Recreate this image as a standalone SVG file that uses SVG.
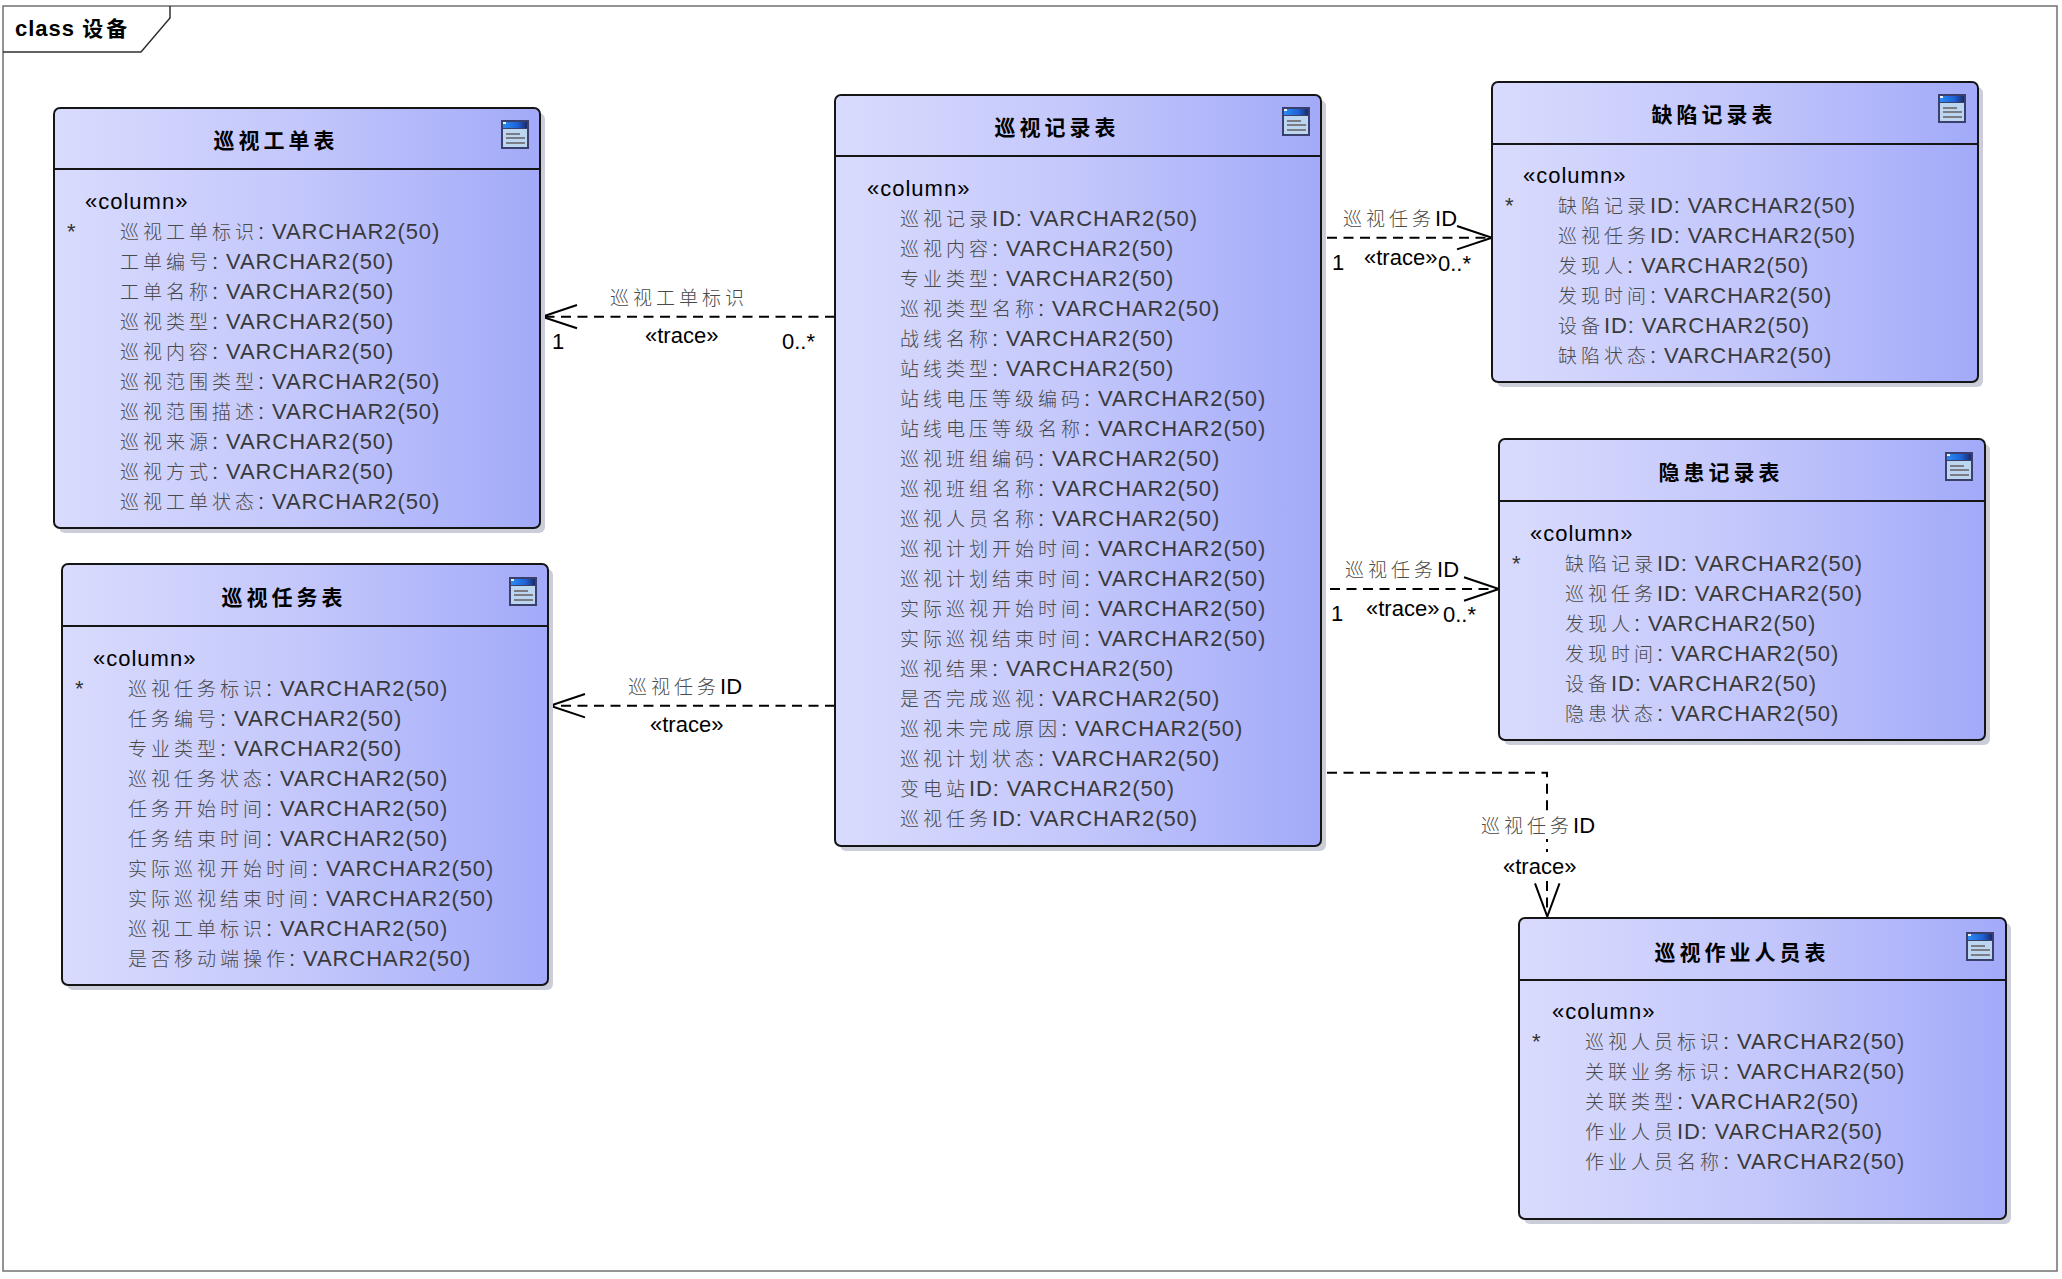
<svg xmlns="http://www.w3.org/2000/svg" xmlns:xlink="http://www.w3.org/1999/xlink" width="2062" height="1279" viewBox="0 0 2062 1279">
<defs>
<linearGradient id="g" x1="0" y1="0" x2="1" y2="0">
<stop offset="0" stop-color="#d9dbfd"/>
<stop offset="0.5" stop-color="#c3c7fb"/>
<stop offset="1" stop-color="#a2aaf9"/>
</linearGradient>
<linearGradient id="ib" x1="0" y1="0" x2="1" y2="0">
<stop offset="0" stop-color="#2a8cf5"/>
<stop offset="0.6" stop-color="#1f62d6"/>
<stop offset="1" stop-color="#1a2a6a"/>
</linearGradient>
<g id="icon">
<rect x="0" y="0" width="28" height="29" fill="#3b3f6c"/>
<rect x="2" y="2" width="24" height="6" fill="url(#ib)"/>
<rect x="2" y="2" width="3" height="2" fill="#e8f2ff"/>
<rect x="2" y="9" width="24" height="18" fill="#bcd6f2"/>
<rect x="5" y="13" width="14" height="2" fill="#7c7c84"/>
<rect x="5" y="17" width="19" height="2" fill="#7c7c84"/>
<rect x="5" y="22" width="19" height="2" fill="#7c7c84"/>
</g>
<style>
.frame{fill:#ffffff;stroke:#707070;stroke-width:1.5}
.tab{fill:none;stroke:#303030;stroke-width:1.5}
.ftitle{font-family:"Liberation Sans","Noto Sans CJK SC",sans-serif;font-size:22px;font-weight:bold;letter-spacing:1px;fill:#000}
.fc{font-family:"Noto Sans CJK SC",sans-serif;font-size:21px;letter-spacing:3px;font-weight:bold;fill:#000}
.shadow{fill:#cbced8}
.box{fill:url(#g);stroke:#151515;stroke-width:2}
.div{stroke:#151515;stroke-width:2}
.title{font-family:"Noto Sans CJK SC",sans-serif;font-size:21px;font-weight:bold;letter-spacing:4px;fill:#000;text-anchor:middle}
.st{font-family:"Liberation Sans",sans-serif;font-size:22px;letter-spacing:1px;fill:#000}
.r{font-family:"Liberation Sans","Noto Sans CJK SC",sans-serif;font-size:22px;letter-spacing:0.9px;fill:#3a3a3a}
.c{font-family:"Noto Sans CJK SC",sans-serif;font-size:19px;letter-spacing:4px;fill:#4a4a4a;font-weight:300}
.star{font-family:"Liberation Sans",sans-serif;font-size:22px;fill:#333}
.ln{fill:none;stroke:#000;stroke-width:2;stroke-dasharray:10 6.5}
.ah{fill:none;stroke:#000;stroke-width:2}
.lb{font-family:"Liberation Sans","Noto Sans CJK SC",sans-serif;font-size:22px;fill:#000}
</style>
</defs>
<rect x="0" y="0" width="2062" height="1279" fill="#ffffff"/>
<g id="frame">
<rect class="frame" x="3" y="6" width="2054" height="1265"/>
<path class="tab" d="M3,52 H141 L170,18 V6"/>
<text class="ftitle" x="15" y="36">class <tspan class="fc">设备</tspan></text>
</g>

<g id="connectors">
<path class="ln" d="M835,316.7 H543"/>
<polyline class="ah" points="577,305 542,316.7 577,328.3"/>
<text class="lb" x="610" y="305"><tspan class="c">巡视工单标识</tspan></text>
<text class="lb" x="645" y="343">«trace»</text>
<text class="lb" x="552" y="349">1</text>
<text class="lb" x="782" y="349">0..*</text>

<path class="ln" d="M835,705.7 H551"/>
<polyline class="ah" points="585,694 550,705.7 585,717.4"/>
<text class="lb" x="628" y="694"><tspan class="c">巡视任务</tspan>ID</text>
<text class="lb" x="650" y="732">«trace»</text>

<path class="ln" d="M1327,237.7 H1491"/>
<polyline class="ah" points="1457,226 1492,237.7 1457,249.4"/>
<text class="lb" x="1343" y="226"><tspan class="c">巡视任务</tspan>ID</text>
<text class="lb" x="1332" y="270">1</text>
<text class="lb" x="1364" y="265">«trace»</text>
<text class="lb" x="1438" y="271">0..*</text>

<path class="ln" d="M1330,589 H1498"/>
<polyline class="ah" points="1464,577.3 1499,589 1464,600.7"/>
<text class="lb" x="1345" y="577"><tspan class="c">巡视任务</tspan>ID</text>
<text class="lb" x="1331" y="621">1</text>
<text class="lb" x="1366" y="616">«trace»</text>
<text class="lb" x="1443" y="622">0..*</text>

<path class="ln" d="M1327,772.7 H1547 V815"/>
<path class="ah" d="M1547,839 V842 M1547,849 V852"/>
<path class="ln" d="M1547,881 V916"/>
<polyline class="ah" points="1535,883.3 1547.3,916.7 1559.5,883.3"/>
<text class="lb" x="1481" y="833"><tspan class="c">巡视任务</tspan>ID</text>
<text class="lb" x="1503" y="874">«trace»</text>
</g>

<g id="n1" transform="translate(54,108)">
<rect class="shadow" x="5" y="5" width="486" height="420" rx="6"/>
<rect class="box" x="0" y="0" width="486" height="420" rx="6"/>
<line class="div" x1="0" y1="61" x2="486" y2="61"/>
<use xlink:href="#icon" x="447" y="12"/>
<text class="title" x="222" y="40">巡视工单表</text>
<text class="st" x="31" y="101">«column»</text>
<text class="star" x="13" y="131">*</text>
<text class="r" x="66" y="131"><tspan class="c">巡视工单标识</tspan>: VARCHAR2(50)</text>
<text class="r" x="66" y="161"><tspan class="c">工单编号</tspan>: VARCHAR2(50)</text>
<text class="r" x="66" y="191"><tspan class="c">工单名称</tspan>: VARCHAR2(50)</text>
<text class="r" x="66" y="221"><tspan class="c">巡视类型</tspan>: VARCHAR2(50)</text>
<text class="r" x="66" y="251"><tspan class="c">巡视内容</tspan>: VARCHAR2(50)</text>
<text class="r" x="66" y="281"><tspan class="c">巡视范围类型</tspan>: VARCHAR2(50)</text>
<text class="r" x="66" y="311"><tspan class="c">巡视范围描述</tspan>: VARCHAR2(50)</text>
<text class="r" x="66" y="341"><tspan class="c">巡视来源</tspan>: VARCHAR2(50)</text>
<text class="r" x="66" y="371"><tspan class="c">巡视方式</tspan>: VARCHAR2(50)</text>
<text class="r" x="66" y="401"><tspan class="c">巡视工单状态</tspan>: VARCHAR2(50)</text>
</g>

<g id="n2" transform="translate(62,564)">
<rect class="shadow" x="5" y="5" width="486" height="421" rx="6"/>
<rect class="box" x="0" y="0" width="486" height="421" rx="6"/>
<line class="div" x1="0" y1="62" x2="486" y2="62"/>
<use xlink:href="#icon" x="447" y="13"/>
<text class="title" x="222" y="41">巡视任务表</text>
<text class="st" x="31" y="102">«column»</text>
<text class="star" x="13" y="132">*</text>
<text class="r" x="66" y="132"><tspan class="c">巡视任务标识</tspan>: VARCHAR2(50)</text>
<text class="r" x="66" y="162"><tspan class="c">任务编号</tspan>: VARCHAR2(50)</text>
<text class="r" x="66" y="192"><tspan class="c">专业类型</tspan>: VARCHAR2(50)</text>
<text class="r" x="66" y="222"><tspan class="c">巡视任务状态</tspan>: VARCHAR2(50)</text>
<text class="r" x="66" y="252"><tspan class="c">任务开始时间</tspan>: VARCHAR2(50)</text>
<text class="r" x="66" y="282"><tspan class="c">任务结束时间</tspan>: VARCHAR2(50)</text>
<text class="r" x="66" y="312"><tspan class="c">实际巡视开始时间</tspan>: VARCHAR2(50)</text>
<text class="r" x="66" y="342"><tspan class="c">实际巡视结束时间</tspan>: VARCHAR2(50)</text>
<text class="r" x="66" y="372"><tspan class="c">巡视工单标识</tspan>: VARCHAR2(50)</text>
<text class="r" x="66" y="402"><tspan class="c">是否移动端操作</tspan>: VARCHAR2(50)</text>
</g>

<g id="n3" transform="translate(835,95)">
<rect class="shadow" x="5" y="5" width="486" height="751" rx="6"/>
<rect class="box" x="0" y="0" width="486" height="751" rx="6"/>
<line class="div" x1="0" y1="61" x2="486" y2="61"/>
<use xlink:href="#icon" x="447" y="12"/>
<text class="title" x="222" y="40">巡视记录表</text>
<text class="st" x="32" y="101">«column»</text>
<text class="r" x="65" y="131"><tspan class="c">巡视记录</tspan>ID: VARCHAR2(50)</text>
<text class="r" x="65" y="161"><tspan class="c">巡视内容</tspan>: VARCHAR2(50)</text>
<text class="r" x="65" y="191"><tspan class="c">专业类型</tspan>: VARCHAR2(50)</text>
<text class="r" x="65" y="221"><tspan class="c">巡视类型名称</tspan>: VARCHAR2(50)</text>
<text class="r" x="65" y="251"><tspan class="c">战线名称</tspan>: VARCHAR2(50)</text>
<text class="r" x="65" y="281"><tspan class="c">站线类型</tspan>: VARCHAR2(50)</text>
<text class="r" x="65" y="311"><tspan class="c">站线电压等级编码</tspan>: VARCHAR2(50)</text>
<text class="r" x="65" y="341"><tspan class="c">站线电压等级名称</tspan>: VARCHAR2(50)</text>
<text class="r" x="65" y="371"><tspan class="c">巡视班组编码</tspan>: VARCHAR2(50)</text>
<text class="r" x="65" y="401"><tspan class="c">巡视班组名称</tspan>: VARCHAR2(50)</text>
<text class="r" x="65" y="431"><tspan class="c">巡视人员名称</tspan>: VARCHAR2(50)</text>
<text class="r" x="65" y="461"><tspan class="c">巡视计划开始时间</tspan>: VARCHAR2(50)</text>
<text class="r" x="65" y="491"><tspan class="c">巡视计划结束时间</tspan>: VARCHAR2(50)</text>
<text class="r" x="65" y="521"><tspan class="c">实际巡视开始时间</tspan>: VARCHAR2(50)</text>
<text class="r" x="65" y="551"><tspan class="c">实际巡视结束时间</tspan>: VARCHAR2(50)</text>
<text class="r" x="65" y="581"><tspan class="c">巡视结果</tspan>: VARCHAR2(50)</text>
<text class="r" x="65" y="611"><tspan class="c">是否完成巡视</tspan>: VARCHAR2(50)</text>
<text class="r" x="65" y="641"><tspan class="c">巡视未完成原因</tspan>: VARCHAR2(50)</text>
<text class="r" x="65" y="671"><tspan class="c">巡视计划状态</tspan>: VARCHAR2(50)</text>
<text class="r" x="65" y="701"><tspan class="c">变电站</tspan>ID: VARCHAR2(50)</text>
<text class="r" x="65" y="731"><tspan class="c">巡视任务</tspan>ID: VARCHAR2(50)</text>
</g>

<g id="n4" transform="translate(1492,82)">
<rect class="shadow" x="5" y="5" width="486" height="300" rx="6"/>
<rect class="box" x="0" y="0" width="486" height="300" rx="6"/>
<line class="div" x1="0" y1="62" x2="486" y2="62"/>
<use xlink:href="#icon" x="446" y="12"/>
<text class="title" x="222" y="40">缺陷记录表</text>
<text class="st" x="31" y="101">«column»</text>
<text class="star" x="13" y="131">*</text>
<text class="r" x="66" y="131"><tspan class="c">缺陷记录</tspan>ID: VARCHAR2(50)</text>
<text class="r" x="66" y="161"><tspan class="c">巡视任务</tspan>ID: VARCHAR2(50)</text>
<text class="r" x="66" y="191"><tspan class="c">发现人</tspan>: VARCHAR2(50)</text>
<text class="r" x="66" y="221"><tspan class="c">发现时间</tspan>: VARCHAR2(50)</text>
<text class="r" x="66" y="251"><tspan class="c">设备</tspan>ID: VARCHAR2(50)</text>
<text class="r" x="66" y="281"><tspan class="c">缺陷状态</tspan>: VARCHAR2(50)</text>
</g>

<g id="n5" transform="translate(1499,439)">
<rect class="shadow" x="5" y="5" width="486" height="301" rx="6"/>
<rect class="box" x="0" y="0" width="486" height="301" rx="6"/>
<line class="div" x1="0" y1="62" x2="486" y2="62"/>
<use xlink:href="#icon" x="446" y="13"/>
<text class="title" x="222" y="41">隐患记录表</text>
<text class="st" x="31" y="102">«column»</text>
<text class="star" x="13" y="132">*</text>
<text class="r" x="66" y="132"><tspan class="c">缺陷记录</tspan>ID: VARCHAR2(50)</text>
<text class="r" x="66" y="162"><tspan class="c">巡视任务</tspan>ID: VARCHAR2(50)</text>
<text class="r" x="66" y="192"><tspan class="c">发现人</tspan>: VARCHAR2(50)</text>
<text class="r" x="66" y="222"><tspan class="c">发现时间</tspan>: VARCHAR2(50)</text>
<text class="r" x="66" y="252"><tspan class="c">设备</tspan>ID: VARCHAR2(50)</text>
<text class="r" x="66" y="282"><tspan class="c">隐患状态</tspan>: VARCHAR2(50)</text>
</g>

<g id="n6" transform="translate(1519,918)">
<rect class="shadow" x="5" y="5" width="487" height="301" rx="6"/>
<rect class="box" x="0" y="0" width="487" height="301" rx="6"/>
<line class="div" x1="0" y1="62" x2="487" y2="62"/>
<use xlink:href="#icon" x="447" y="14"/>
<text class="title" x="223" y="42">巡视作业人员表</text>
<text class="st" x="33" y="101">«column»</text>
<text class="star" x="13" y="131">*</text>
<text class="r" x="66" y="131"><tspan class="c">巡视人员标识</tspan>: VARCHAR2(50)</text>
<text class="r" x="66" y="161"><tspan class="c">关联业务标识</tspan>: VARCHAR2(50)</text>
<text class="r" x="66" y="191"><tspan class="c">关联类型</tspan>: VARCHAR2(50)</text>
<text class="r" x="66" y="221"><tspan class="c">作业人员</tspan>ID: VARCHAR2(50)</text>
<text class="r" x="66" y="251"><tspan class="c">作业人员名称</tspan>: VARCHAR2(50)</text>
</g>
</svg>
